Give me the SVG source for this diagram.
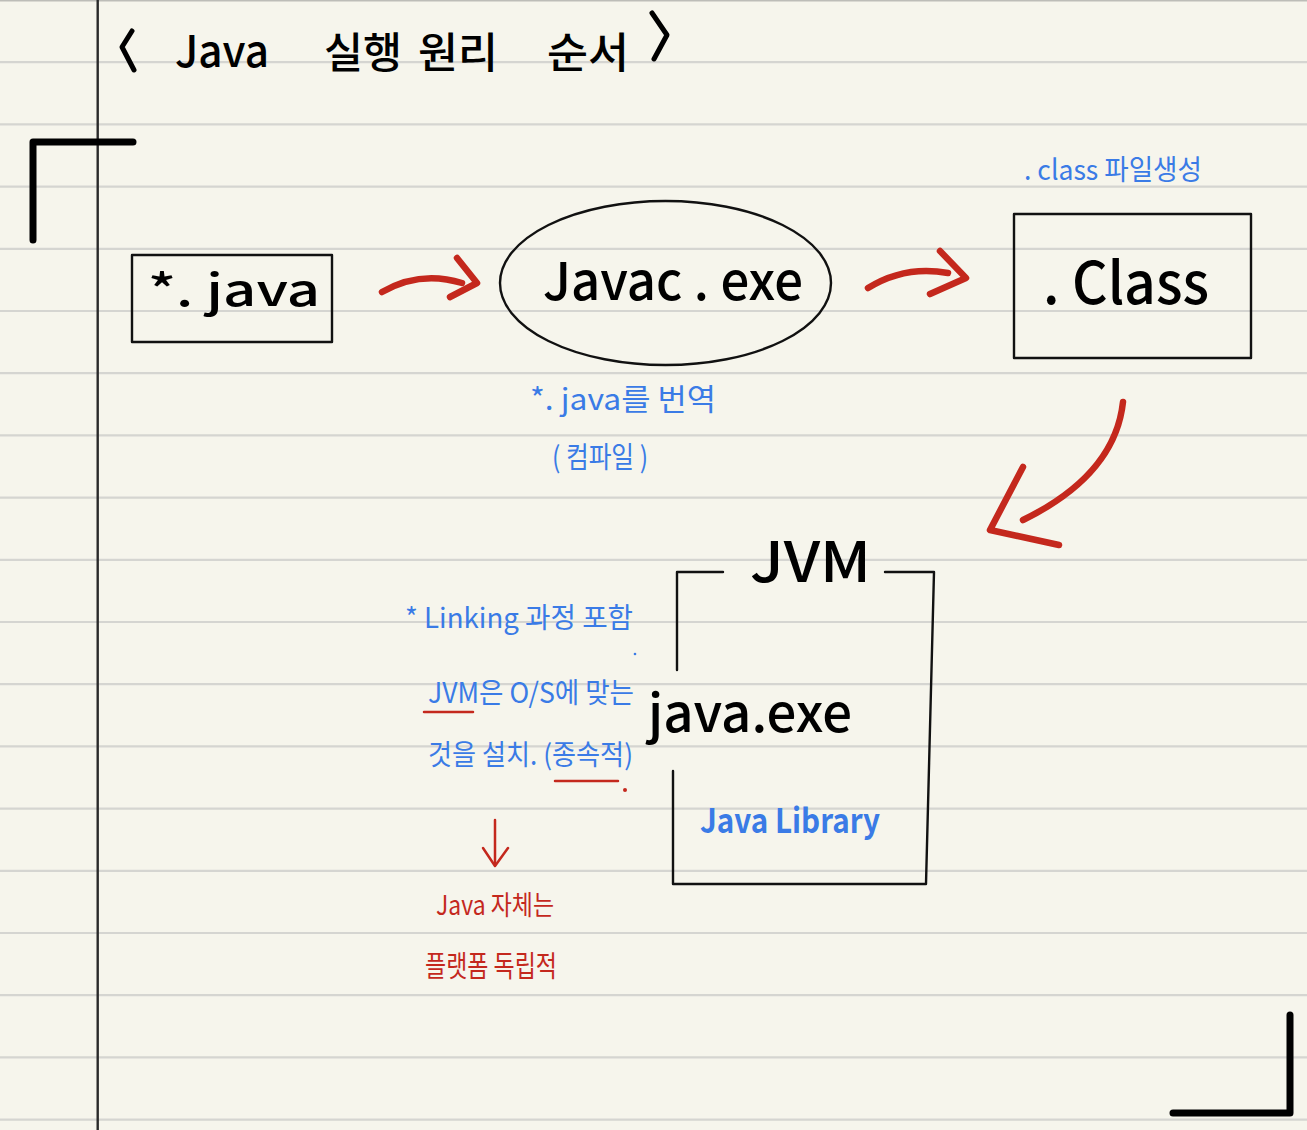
<svg xmlns="http://www.w3.org/2000/svg" width="1307" height="1130" viewBox="0 0 1307 1130">
<defs>
<style>
.paper{fill:#f6f5ec}
.rule{stroke:#d5d5d1;stroke-width:2.2}
.ink{fill:none;stroke:#111;stroke-width:2.4;stroke-linecap:round;stroke-linejoin:round}
.thick{fill:none;stroke:#000;stroke-width:7;stroke-linecap:round;stroke-linejoin:round}
.pen{fill:none;stroke:#000;stroke-width:5;stroke-linecap:round;stroke-linejoin:round}
.red{fill:none;stroke:#c4281d;stroke-width:6.5;stroke-linecap:round;stroke-linejoin:round}
.redthin{fill:none;stroke:#c4281d;stroke-width:2.5;stroke-linecap:round;stroke-linejoin:round}
text{font-family:"Noto Sans CJK KR","Noto Sans",sans-serif}
.tb{fill:#000;font-weight:500}
.tblue{fill:#3a7be6}
.tred{fill:#c4281d}
</style>
</defs>
<rect class="paper" x="0" y="0" width="1307" height="1130"/>
<g id="paper-lines">
<line x1="0" y1="0.8" x2="1307" y2="0.8" stroke="#bdbdb8" stroke-width="1.6"/>
<line class="rule" x1="0" y1="62.2" x2="1307" y2="62.2"/>
<line class="rule" x1="0" y1="124.4" x2="1307" y2="124.4"/>
<line class="rule" x1="0" y1="186.6" x2="1307" y2="186.6"/>
<line class="rule" x1="0" y1="248.8" x2="1307" y2="248.8"/>
<line class="rule" x1="0" y1="311" x2="1307" y2="311"/>
<line class="rule" x1="0" y1="373.2" x2="1307" y2="373.2"/>
<line class="rule" x1="0" y1="435.4" x2="1307" y2="435.4"/>
<line class="rule" x1="0" y1="497.6" x2="1307" y2="497.6"/>
<line class="rule" x1="0" y1="559.8" x2="1307" y2="559.8"/>
<line class="rule" x1="0" y1="622" x2="1307" y2="622"/>
<line class="rule" x1="0" y1="684.2" x2="1307" y2="684.2"/>
<line class="rule" x1="0" y1="746.4" x2="1307" y2="746.4"/>
<line class="rule" x1="0" y1="808.6" x2="1307" y2="808.6"/>
<line class="rule" x1="0" y1="870.8" x2="1307" y2="870.8"/>
<line class="rule" x1="0" y1="933" x2="1307" y2="933"/>
<line class="rule" x1="0" y1="995.2" x2="1307" y2="995.2"/>
<line class="rule" x1="0" y1="1057.4" x2="1307" y2="1057.4"/>
<line class="rule" x1="0" y1="1119.6" x2="1307" y2="1119.6"/>
<line x1="97.7" y1="0" x2="97.7" y2="1130" stroke="#2a2a2a" stroke-width="2.4"/>
</g>
<g id="corners">
<polyline class="thick" points="33,240 33,142 133,142"/>
<polyline class="thick" points="1173,1113 1290,1113 1290,1015"/>
</g>
<g id="title">
<polyline class="pen" points="132,31 122,47 134,70"/>
<text class="tb" x="175" y="67" font-size="44" textLength="94" lengthAdjust="spacingAndGlyphs">Java</text>
<text class="tb" x="324" y="68" font-size="42" textLength="78" lengthAdjust="spacingAndGlyphs">실행</text>
<text class="tb" x="418" y="68" font-size="42" textLength="80" lengthAdjust="spacingAndGlyphs">원리</text>
<text class="tb" x="547" y="68" font-size="42" textLength="82" lengthAdjust="spacingAndGlyphs">순서</text>
<polyline class="pen" points="652,13 667,35 654,59"/>
</g>
<g id="node-java-source">
<rect class="ink" x="132" y="255" width="200" height="87"/>
<text class="tb" x="148" y="306" font-size="44" textLength="172" lengthAdjust="spacingAndGlyphs">*. java</text>
</g>
<g id="node-javac">
<ellipse class="ink" cx="665.5" cy="283" rx="165.5" ry="82"/>
<text class="tb" x="543" y="300" font-size="52" textLength="260" lengthAdjust="spacingAndGlyphs">Javac . exe</text>
</g>
<g id="node-class">
<rect class="ink" x="1014" y="214" width="237" height="144"/>
<text class="tb" x="1043" y="304" font-size="58" textLength="166" lengthAdjust="spacingAndGlyphs">. Class</text>
<text class="tblue" x="1024" y="180" font-size="28" textLength="178" lengthAdjust="spacingAndGlyphs">. class 파일생성</text>
</g>
<g id="note-compile">
<text class="tblue" x="530" y="410" font-size="30" textLength="186" lengthAdjust="spacingAndGlyphs">*. java를 번역</text>
<text class="tblue" x="552" y="468" font-size="29" textLength="96" lengthAdjust="spacingAndGlyphs">( 컴파일 )</text>
</g>
<g id="node-jvm">
<polyline class="ink" points="677,670 677,572 723,572"/>
<polyline class="ink" points="885,572 934,572 926,884 673,884 673,771"/>
<text class="tb" x="750" y="582" font-size="56" textLength="121" lengthAdjust="spacingAndGlyphs">JVM</text>
<text class="tb" x="648" y="732" font-size="52" textLength="204" lengthAdjust="spacingAndGlyphs">java.exe</text>
<text class="tblue" x="700" y="833" font-size="34" font-weight="bold" textLength="180" lengthAdjust="spacingAndGlyphs">Java Library</text>
</g>
<g id="note-jvm">
<text class="tblue" x="405" y="628" font-size="28" textLength="228" lengthAdjust="spacingAndGlyphs">* Linking 과정 포함</text>
<circle cx="635" cy="654" r="1.3" fill="#3a7be6"/>
<text class="tblue" x="428" y="703" font-size="28" textLength="206" lengthAdjust="spacingAndGlyphs">JVM은  O/S에 맞는</text>
<text class="tblue" x="428" y="765" font-size="28" textLength="205" lengthAdjust="spacingAndGlyphs">것을  설치.  (종속적)</text>
<line class="redthin" x1="424" y1="712" x2="473" y2="712"/>
<line class="redthin" x1="555" y1="781" x2="618" y2="781"/>
<circle cx="625" cy="790" r="2" fill="#c4281d"/>
</g>
<g id="note-platform">
<text class="tred" x="436" y="915" font-size="27" textLength="118" lengthAdjust="spacingAndGlyphs">Java 자체는</text>
<text class="tred" x="425" y="977" font-size="29" textLength="132" lengthAdjust="spacingAndGlyphs">플랫폼 독립적</text>
</g>
<g id="connectors">
<path class="red" d="M382,292 Q420,270 462,283"/>
<polyline class="red" points="457,258 477,283 450,297"/>
<path class="red" d="M868,288 Q905,265 948,273"/>
<polyline class="red" points="940,251 966,278 930,294"/>
<path class="red" d="M1123,402 Q1115,475 1023,520"/>
<polyline class="red" points="1023,467 990,530 1059,545"/>
<line class="redthin" x1="495" y1="820" x2="495" y2="865"/>
<polyline class="redthin" points="483,848 495,866 508,848"/>
</g>
</svg>
